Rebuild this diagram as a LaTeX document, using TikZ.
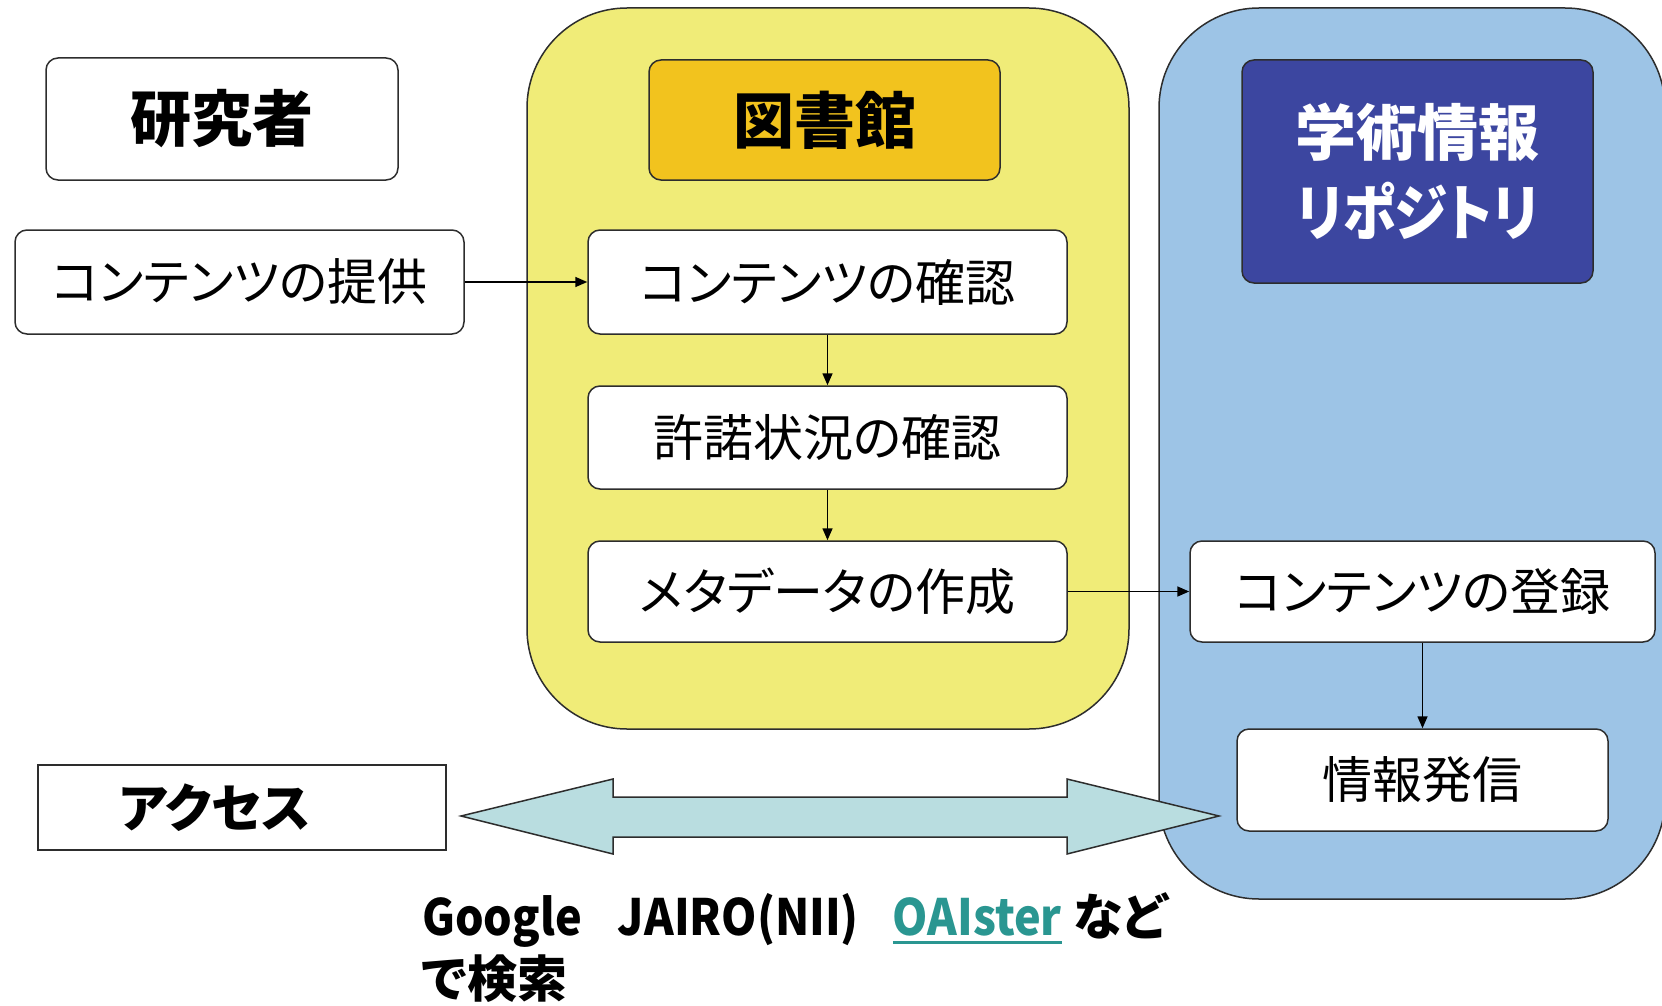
\documentclass[tikz,border=0pt]{standalone}
\usepackage{fontspec}
\setmainfont{Noto Sans CJK JP}[RawFeature=+palt]
\usetikzlibrary{arrows.meta}
\definecolor{yellowbg}{RGB}{240,236,120}
\definecolor{libor}{RGB}{242,195,30}
\definecolor{bluebg}{RGB}{157,196,230}
\definecolor{navy}{RGB}{60,70,160}
\definecolor{arrowfill}{RGB}{185,221,224}
\definecolor{linkc}{RGB}{42,150,145}
\definecolor{edge}{RGB}{45,45,45}
\newcommand\myul[1]{\setbox0\hbox{#1}\rlap{\raisebox{-9pt}{\rule{\wd0}{3pt}}}\box0}
\newcommand\narrow[1]{\scalebox{0.88}[1]{#1}}
\newcommand\narrowb[1]{\scalebox{0.9}[1]{#1}}
\tikzset{
  region/.style={draw=edge, line width=1.5, rounded corners=100, inner sep=0},
  box/.style={draw=edge, line width=1.5, rounded corners=12, fill=white, inner sep=0,
    font=\fontsize{50}{60}\selectfont},
  titlebox/.style={box, font=\bfseries\fontsize{61}{80}\selectfont, align=center},
  arr/.style={line width=1.6, -{Triangle[length=12,width=10]}},
  btext/.style={anchor=base west, inner sep=0, font=\bfseries\fontsize{50}{62}\selectfont}
}
\begin{document}
\begin{tikzpicture}[x=1pt,y=-1pt]
\useasboundingbox (0,0) rectangle (1662,1006);
\clip (0,0) rectangle (1662,1006);
\fill[white] (0,0) rectangle (1662,1006);
% regions
\node[region, fill=yellowbg, minimum width=602, minimum height=721] (lib region) at (828,368.5) {};
\node[region, fill=bluebg, minimum width=506, minimum height=891] (repo region) at (1412,453.5) {};
% researcher column
\node[titlebox, minimum width=352, minimum height=122] (res) at (222,119) {研究者};
\node[box, minimum width=449, minimum height=104] (teikyo) at (239.5,282) {コンテンツの提供};
% library column
\node[titlebox, fill=libor, minimum width=351, minimum height=120] (lib) at (824.5,120) {図書館};
\node[box, minimum width=479, minimum height=104] (kakunin) at (827.5,282) {コンテンツの確認};
\node[box, minimum width=479, minimum height=103] (kyodaku) at (827.5,437.5) {許諾状況の確認};
\node[box, minimum width=479, minimum height=101] (meta) at (827.5,591.5) {メタデータの作成};
% repository column
\node[titlebox, fill=navy, text=white, minimum width=351, minimum height=223] (repo) at (1417.5,171.5) {学術情報\\\narrow{リポジトリ}};
\node[box, minimum width=465, minimum height=101] (toroku) at (1422.5,591.5) {コンテンツの登録};
\node[box, minimum width=371, minimum height=102] (hasshin) at (1422.5,780) {情報発信};
% access
\node[box, rounded corners=0, font=\bfseries\fontsize{52}{60}\selectfont, minimum width=408, minimum height=85] (access) at (242,807.5) {アクセス\kern54pt};
% connectors
\draw[arr] (teikyo.east) -- (kakunin.west);
\draw[arr] (kakunin.south) -- (kyodaku.north);
\draw[arr] (kyodaku.south) -- (meta.north);
\draw[arr] (meta.east) -- (toroku.west);
\draw[arr] (toroku.south) -- (hasshin.north);
% double arrow
\coordinate (dl) at (461,816);
\coordinate (dr) at (1219,816);
\draw[edge, line width=1.5, fill=arrowfill, line join=miter]
  (dl) -- (613,779) -- (613,797) -- (1067,797) -- (1067,779) -- (dr)
  -- (1067,854) -- (1067,837) -- (613,837) -- (613,854) -- cycle;
% search text
\node[btext] (search1) at (422,935) {\narrowb{Google}\hspace{36pt}\narrowb{JAIRO(NII)}\hspace{34pt}{\color{linkc}\myul{\narrowb{OAIster}}}\hspace{12pt}など};
\node[btext] (search2) at (422,997) {で検索};
\end{tikzpicture}
\end{document}
